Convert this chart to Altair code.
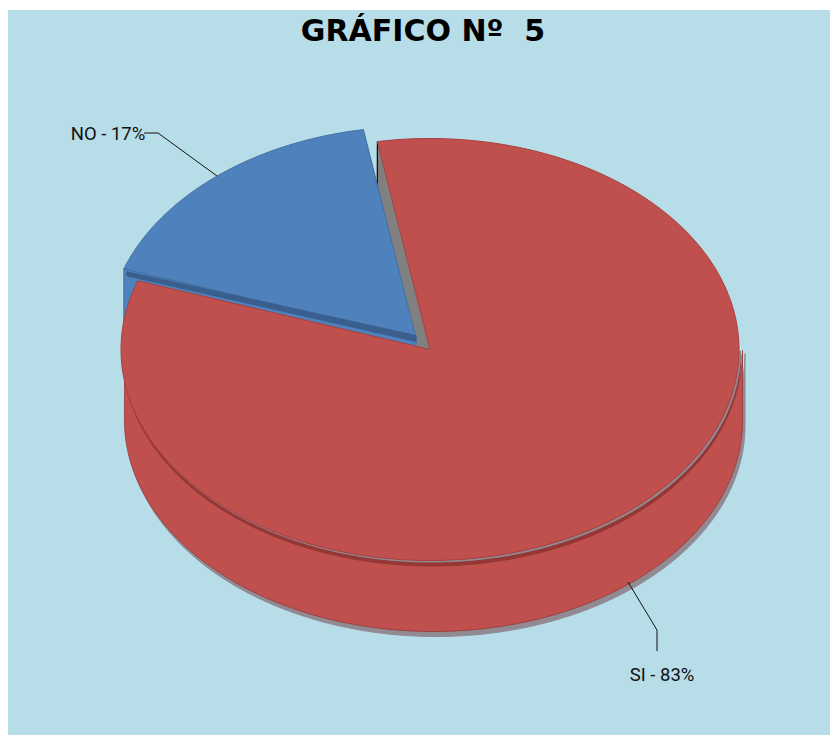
import math
import altair as alt
import pandas as pd

# ---- chart values
categories = ["NO", "SI"]
shares = [17, 83]
title_text = "GRÁFICO Nº \u00a05"

# ---- geometry / style
W, H = 822, 730
CX, CY, RX, RY = 430.0, 349.5, 309.0, 211.0   # top ellipse of the pie
DEPTH = 71.0
START = -9.8                                   # angle at which SI starts
BLUE_SHIFT = (-14.0, -12.0)                    # exploded NO slice
RED, RED_D, BLUE, BLUE_D, BLUE_E = "#C0504D", "#953735", "#4F81BD", "#3A5F8F", "#41709F"
GREY, SHADOW, BG = "#808080", "#918A93", "#B7DDE8"

X = alt.X("x:Q", scale=alt.Scale(domain=[8, 8 + W], range=[0, W]), axis=None)
Y = alt.Y("y:Q", scale=alt.Scale(domain=[8 + H, 8], range=[H, 0]), axis=None)


def ell(t, cx=CX, cy=CY, rx=RX, ry=RY):
    a = math.radians(t)
    return (cx + rx * math.sin(a), cy - ry * math.cos(a))


def arc(t0, t1, cx=CX, cy=CY, rx=RX, ry=RY, n=180):
    return [ell(t0 + (t1 - t0) * i / n, cx, cy, rx, ry) for i in range(n + 1)]


def poly(points, fill=None, stroke=None, sw=1.0, close=True):
    pts = list(points) + ([points[0]] if close else [])
    df = pd.DataFrame({"x": [p[0] for p in pts], "y": [p[1] for p in pts], "o": range(len(pts))})
    kw = {"strokeWidth": sw, "interpolate": "linear", "clip": False}
    kw["stroke"] = stroke if stroke else (fill if fill else "transparent")
    if fill:
        kw["fill"] = fill
    return alt.Chart(df).mark_line(**kw).encode(x=X, y=Y, order=alt.Order("o:Q"))


def label(text, x, y, font="Roboto", size=18.5, weight="normal", color="#111111"):
    df = pd.DataFrame({"x": [x], "y": [y], "t": [text]})
    return alt.Chart(df).mark_text(
        font=font, fontSize=size, fontWeight=weight, color=color, align="center", baseline="alphabetic"
    ).encode(x=X, y=Y, text="t:N")


si_sweep = shares[1] / sum(shares) * 360
si_end = START + si_sweep
no_start = si_end - 360
no_end = START

layers = []

# background panel
bg_df = pd.DataFrame({"x": [8], "x2": [8 + W], "y": [10], "y2": [735]})
layers.append(alt.Chart(bg_df).mark_rect(fill=BG, clip=False).encode(x=X, x2="x2:Q", y=Y, y2="y2:Q"))

# grey cut face seen behind the NO slice
layers.append(poly([ell(START), (CX, CY), (CX - 15, CY - 4), (CX - 53, CY - 155)], fill=GREY))
layers.append(poly([ell(START), (ell(START)[0], ell(START)[1] + 46)], stroke="#111111", sw=1.2, close=False))

# NO slice: body then top face
bx, by = CX + BLUE_SHIFT[0], CY + BLUE_SHIFT[1]
p_left = ell(no_start, bx, by)
layers.append(poly([p_left, (p_left[0], p_left[1] + 70), (bx, by + 10), (bx, by)], fill=BLUE, stroke=BLUE_E))
layers.append(poly([(bx, by)] + arc(no_start, no_end, bx, by), fill=BLUE, stroke=BLUE_E))
layers.append(poly([(p_left[0] + 3, p_left[1] + 3), (bx, by - 2), (bx, by + 4), (p_left[0] + 3, p_left[1] + 7)], fill=BLUE_D))

# SI slice: shadow, wall, under-rim and top face
lo = arc(90, 270, CX + 6, CY + 4)
lo_b = arc(270, 90, CX + 6, CY + 5 + DEPTH)
layers.append(poly(lo + lo_b, fill=SHADOW))
lo = arc(90, 270, CX + 3.5, CY + 1)
lo_b = arc(270, 90, CX + 3.5, CY + DEPTH)
layers.append(poly(lo + lo_b, fill=RED, stroke=RED_D, sw=0.8))
layers.append(poly(arc(90, 270, CX + 2, CY + 5.5), fill=RED_D))
layers.append(poly(arc(90, 270, CX + 1.5, CY + 1.5), fill=SHADOW))
layers.append(poly([(CX, CY)] + arc(START, si_end), fill=RED, stroke="#A8403E", sw=1.0))

# leader lines and labels
layers.append(poly([(144, 133), (158, 133), (217, 176)], stroke="#111111", sw=1.0, close=False))
layers.append(poly([(628, 582), (657, 630), (657, 651)], stroke="#111111", sw=1.0, close=False))
layers.append(label(f"{categories[0]} - {shares[0]}%", 108, 140))
layers.append(label(f"{categories[1]} - {shares[1]}%", 662, 681))
layers.append(label(title_text, 423, 41, font="DejaVu Sans", size=30, weight="bold", color="#000000"))

chart = (
    alt.layer(*layers)
    .properties(
        width=W,
        height=H,
        padding=0,
        autosize=alt.AutoSizeParams(type="none"),
        background="white",
    )
    .configure_view(stroke=None)
)

chart.save("out.html", embed_options={"renderer": "svg", "actions": False})
